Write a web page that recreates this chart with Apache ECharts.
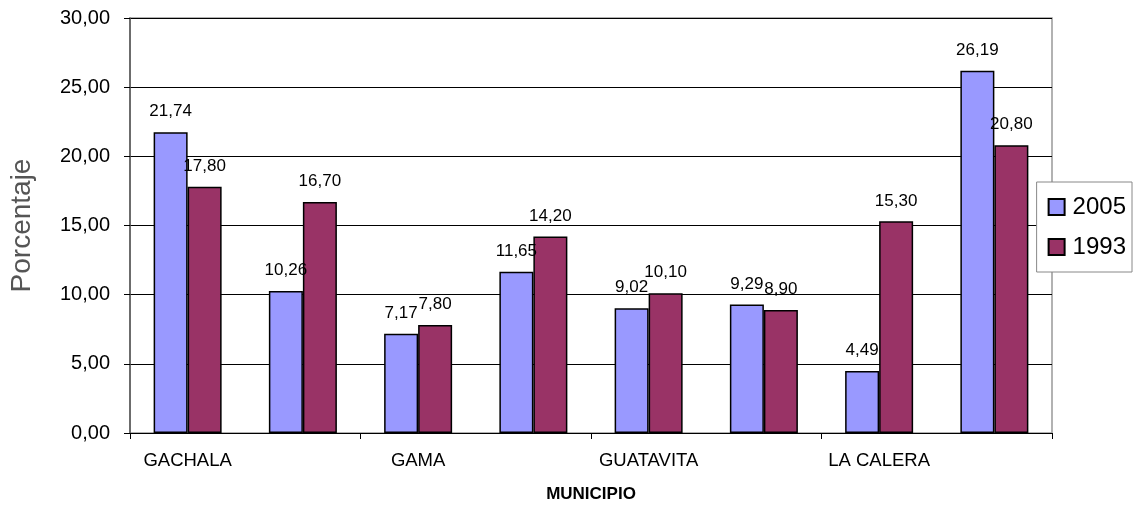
<!DOCTYPE html>
<html><head><meta charset="utf-8">
<script src="https://cdn.jsdelivr.net/npm/echarts@6/dist/echarts.min.js"></script>
<style>html,body{margin:0;padding:0;background:#fff}#c{width:1133px;height:508px}</style>
</head><body><div id="c"></div>
<script>
const categories = ['GACHALA','GACHETA','GAMA','GUASCA','GUATAVITA','JUNIN','LA CALERA','UBALA'];
const values2005 = [21.74, 10.26, 7.17, 11.65, 9.02, 9.29, 4.49, 26.19];
const values1993 = [17.80, 16.70, 7.80, 14.20, 10.10, 8.90, 15.30, 20.80];
const yTicks = [0, 5, 10, 15, 20, 25, 30];

const FONT = '"Liberation Sans", Arial, sans-serif';
const fmt = v => v.toFixed(2).replace('.', ',');
const chart = echarts.init(document.getElementById('c'));
const lbl = {show:true, position:'top', distance:12, color:'#000', fontFamily:FONT, fontSize:17, formatter:p=>fmt(p.value)};
chart.setOption({
  animation:false,
  textStyle:{fontFamily:FONT},
  grid:{left:126, right:81, top:18, bottom:74, show:true, borderColor:'#999', borderWidth:1.5},
  legend:{orient:'vertical', right:1, top:182, data:['2005','1993'], backgroundColor:'#fff', borderColor:'#888', borderWidth:1,
    padding:[13,6,13,11], itemGap:16, itemWidth:16, itemHeight:16, icon:'rect',
    textStyle:{fontFamily:FONT, fontSize:24, color:'#000', padding:[0,0,0,3]}},
  xAxis:{type:'category', data:categories, name:'MUNICIPIO', nameLocation:'middle', nameGap:53,
    nameTextStyle:{fontFamily:FONT, fontSize:17, fontWeight:'bold', color:'#000'},
    axisLine:{lineStyle:{color:'#000', width:1}},
    axisTick:{show:true, length:6, lineStyle:{color:'#000'}},
    axisLabel:{interval:1, color:'#000', fontSize:18.5, fontFamily:FONT, margin:18}},
  yAxis:{type:'value', min:0, max:30, interval:5, name:'Porcentaje', nameLocation:'middle', nameGap:94, nameRotate:90,
    nameTextStyle:{fontFamily:FONT, fontSize:28, color:'#555'},
    axisLine:{show:true, lineStyle:{color:'#555', width:1.5}},
    axisTick:{show:true, length:6, lineStyle:{color:'#000'}},
    splitLine:{lineStyle:{color:'#000', width:1}},
    axisLabel:{color:'#000', fontSize:20, fontFamily:FONT, margin:20,
      formatter:v=> yTicks.includes(v) ? fmt(v) : ''}},
  series:[
    {name:'2005', type:'bar', data:values2005, barWidth:34, barGap:'0%',
     itemStyle:{color:'#9999FF', borderColor:'#000', borderWidth:1.5}, label:lbl},
    {name:'1993', type:'bar', data:values1993, barWidth:34,
     itemStyle:{color:'#993366', borderColor:'#000', borderWidth:1.5}, label:lbl}
  ]
});
</script></body></html>
